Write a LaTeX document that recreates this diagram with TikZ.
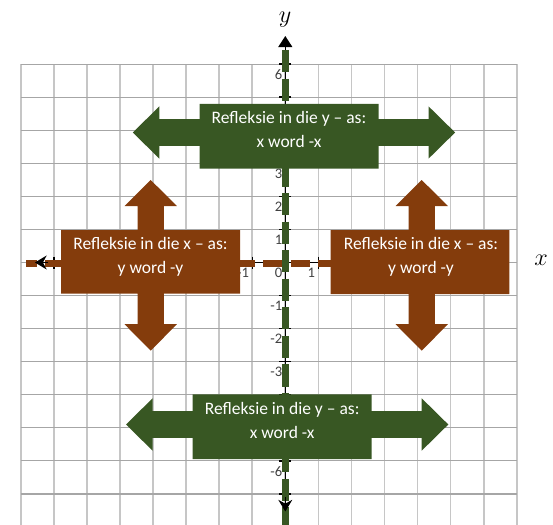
\documentclass[tikz,border=0pt]{standalone}
\usepackage{fontspec}
\setmainfont{Carlito}
\usetikzlibrary{arrows.meta}
\definecolor{boxgreen}{HTML}{385723}
\definecolor{boxbrown}{HTML}{843C0C}
\definecolor{gridv}{HTML}{C6C6C6}
\definecolor{gridh}{HTML}{A6A6A6}
\definecolor{labgray}{HTML}{404040}
% left-right arrow callout: #1 colour, #2 box left, #3 box right, #4 box top, #5 box bottom, #6 left tip, #7 right tip, #8 arrow centre y
\newcommand\LRshape[8]{%
\fill[#1] (#2,#4) -- (#3,#4) -- (#3,{#8-13.3}) -- ({#7-26.6},{#8-13.3}) -- ({#7-26.6},{#8-26.2}) -- (#7,#8)
 -- ({#7-26.6},{#8+26.2}) -- ({#7-26.6},{#8+13.3}) -- (#3,{#8+13.3}) -- (#3,#5) -- (#2,#5) -- (#2,{#8+13.3})
 -- ({#6+26.6},{#8+13.3}) -- ({#6+26.6},{#8+26.2}) -- (#6,#8) -- ({#6+26.6},{#8-26.2}) -- ({#6+26.6},{#8-13.3})
 -- (#2,{#8-13.3}) -- cycle;}
% up-down arrow callout: #1 colour, #2 box left, #3 box right, #4 box top, #5 box bottom, #6 top tip, #7 bottom tip, #8 arrow centre x
\newcommand\UDshape[8]{%
\fill[#1] (#2,#4) -- ({#8-13.2},#4) -- ({#8-13.2},{#6+26}) -- ({#8-26.2},{#6+26}) -- (#8,#6) -- ({#8+26.2},{#6+26})
 -- ({#8+13.2},{#6+26}) -- ({#8+13.2},#4) -- (#3,#4) -- (#3,#5) -- ({#8+13.2},#5) -- ({#8+13.2},{#7-26.5})
 -- ({#8+26.2},{#7-26.5}) -- (#8,#7) -- ({#8-26.2},{#7-26.5}) -- ({#8-13.2},{#7-26.5}) -- ({#8-13.2},#5)
 -- (#2,#5) -- cycle;}
\tikzset{
 vgrid/.style={gridv, line width=1.4pt},
 hgrid/.style={gridh, line width=0.9pt},
 axisline/.style={black, line width=1.1pt},
 tickmark/.style={black, line width=1.2pt},
 numlabel/.style={labgray, font=\fontsize{12.5}{14}\selectfont, inner sep=0pt, anchor=east},
 boxtext/.style={white, font=\fontsize{15}{20.6}\selectfont, align=center, inner sep=0pt, text depth=0pt},
 greendash/.style={boxgreen, line width=6.5pt, dash pattern=on 19pt off 5.5pt},
 browndash/.style={boxbrown, line width=5.7pt, dash pattern=on 16.3pt off 7.1pt, dash phase=7.2pt},
 axistitle/.style={inner sep=0pt, font=\fontsize{22}{25}\selectfont},
 tipstealth/.style={-{Stealth[length=10pt,width=12pt]}},
}
\begin{document}
\begin{tikzpicture}[x=0.857pt, y=-0.857pt]
\useasboundingbox (0,0) rectangle (553,525);
% grid
\foreach \k in {0,...,15} \draw[vgrid] ({20.7+33.07*\k},64.1) -- ({20.7+33.07*\k},525);
\foreach \j in {-7,...,6} \draw[hgrid] (20.7,{262.5-33.07*\j}) -- (516.8,{262.5-33.07*\j});
% axes
\coordinate (ytop) at (285.3,36);
\coordinate (ybot) at (285.3,511.5);
\coordinate (ybotb) at (285.3,497);
\coordinate (xleft) at (35,262.5);
\coordinate (xleftb) at (48,262.5);
\coordinate (xright) at (509,262.5);
\draw[axisline, -{Triangle[length=9.5pt,width=12pt]}] (ybot) -- (ytop);
\draw[axisline] (xleft) -- (xright);
\foreach \j in {-7,...,6} \draw[tickmark] (279.3,{262.5-33.07*\j}) -- (291.3,{262.5-33.07*\j});
\foreach \i in {-7,...,6} \draw[tickmark] ({285.3+33.07*\i},256.5) -- ({285.3+33.07*\i},268.5);
% numbers
\foreach \j/\t in {6/6,3/3,2/2,1/1,0/0,-1/-1,-2/-2,-3/-3,-6/-6}
  \node[numlabel] (ylab\j) at (282.5,{262.5-33.07*\j+10.5}) {\t};
\foreach \i/\t in {-1/-1,1/1}
  \node[numlabel] (xlab\i) at ({285.3+33.07*\i-3},273) {\t};
% coloured dashed axes
\coordinate (gtop) at (285.3,50);
\coordinate (gbot) at (285.3,525);
\coordinate (bleft) at (26,263.3);
\coordinate (bright) at (505,263.3);
\draw[greendash] (gtop) -- (gbot);
\draw[browndash] (bleft) -- (bright);
% arrowheads lying over the dashes
\draw[axisline, tipstealth] (ybotb) -- (ybot);
\draw[axisline, tipstealth] (xleftb) -- (xleft);
% callout shapes
\LRshape{boxgreen}{199.5}{378.5}{104}{168.5}{132.8}{455.1}{132.5}
\LRshape{boxgreen}{192.7}{371.7}{394.3}{459}{126}{448.3}{424.5}
\UDshape{boxbrown}{61}{240}{230}{293.5}{180}{350.7}{150.7}
\UDshape{boxbrown}{330.7}{509.3}{230}{294}{180}{350.7}{421.7}
% texts
\node[boxtext] (ttop) at (289,129) {Refleksie in die y – as:\\x word -x};
\node[boxtext] (tbot) at (282.2,420) {Refleksie in die y – as:\\x word -x};
\node[boxtext] (tleft) at (150.5,255) {Refleksie in die x – as:\\y word -y};
\node[boxtext] (tright) at (421,255) {Refleksie in die x – as:\\y word -y};
% axis titles
\node[axistitle] (ytitle) at (285,20) {$y$};
\node[axistitle] (xtitle) at (541,260) {$x$};
\end{tikzpicture}
\end{document}
